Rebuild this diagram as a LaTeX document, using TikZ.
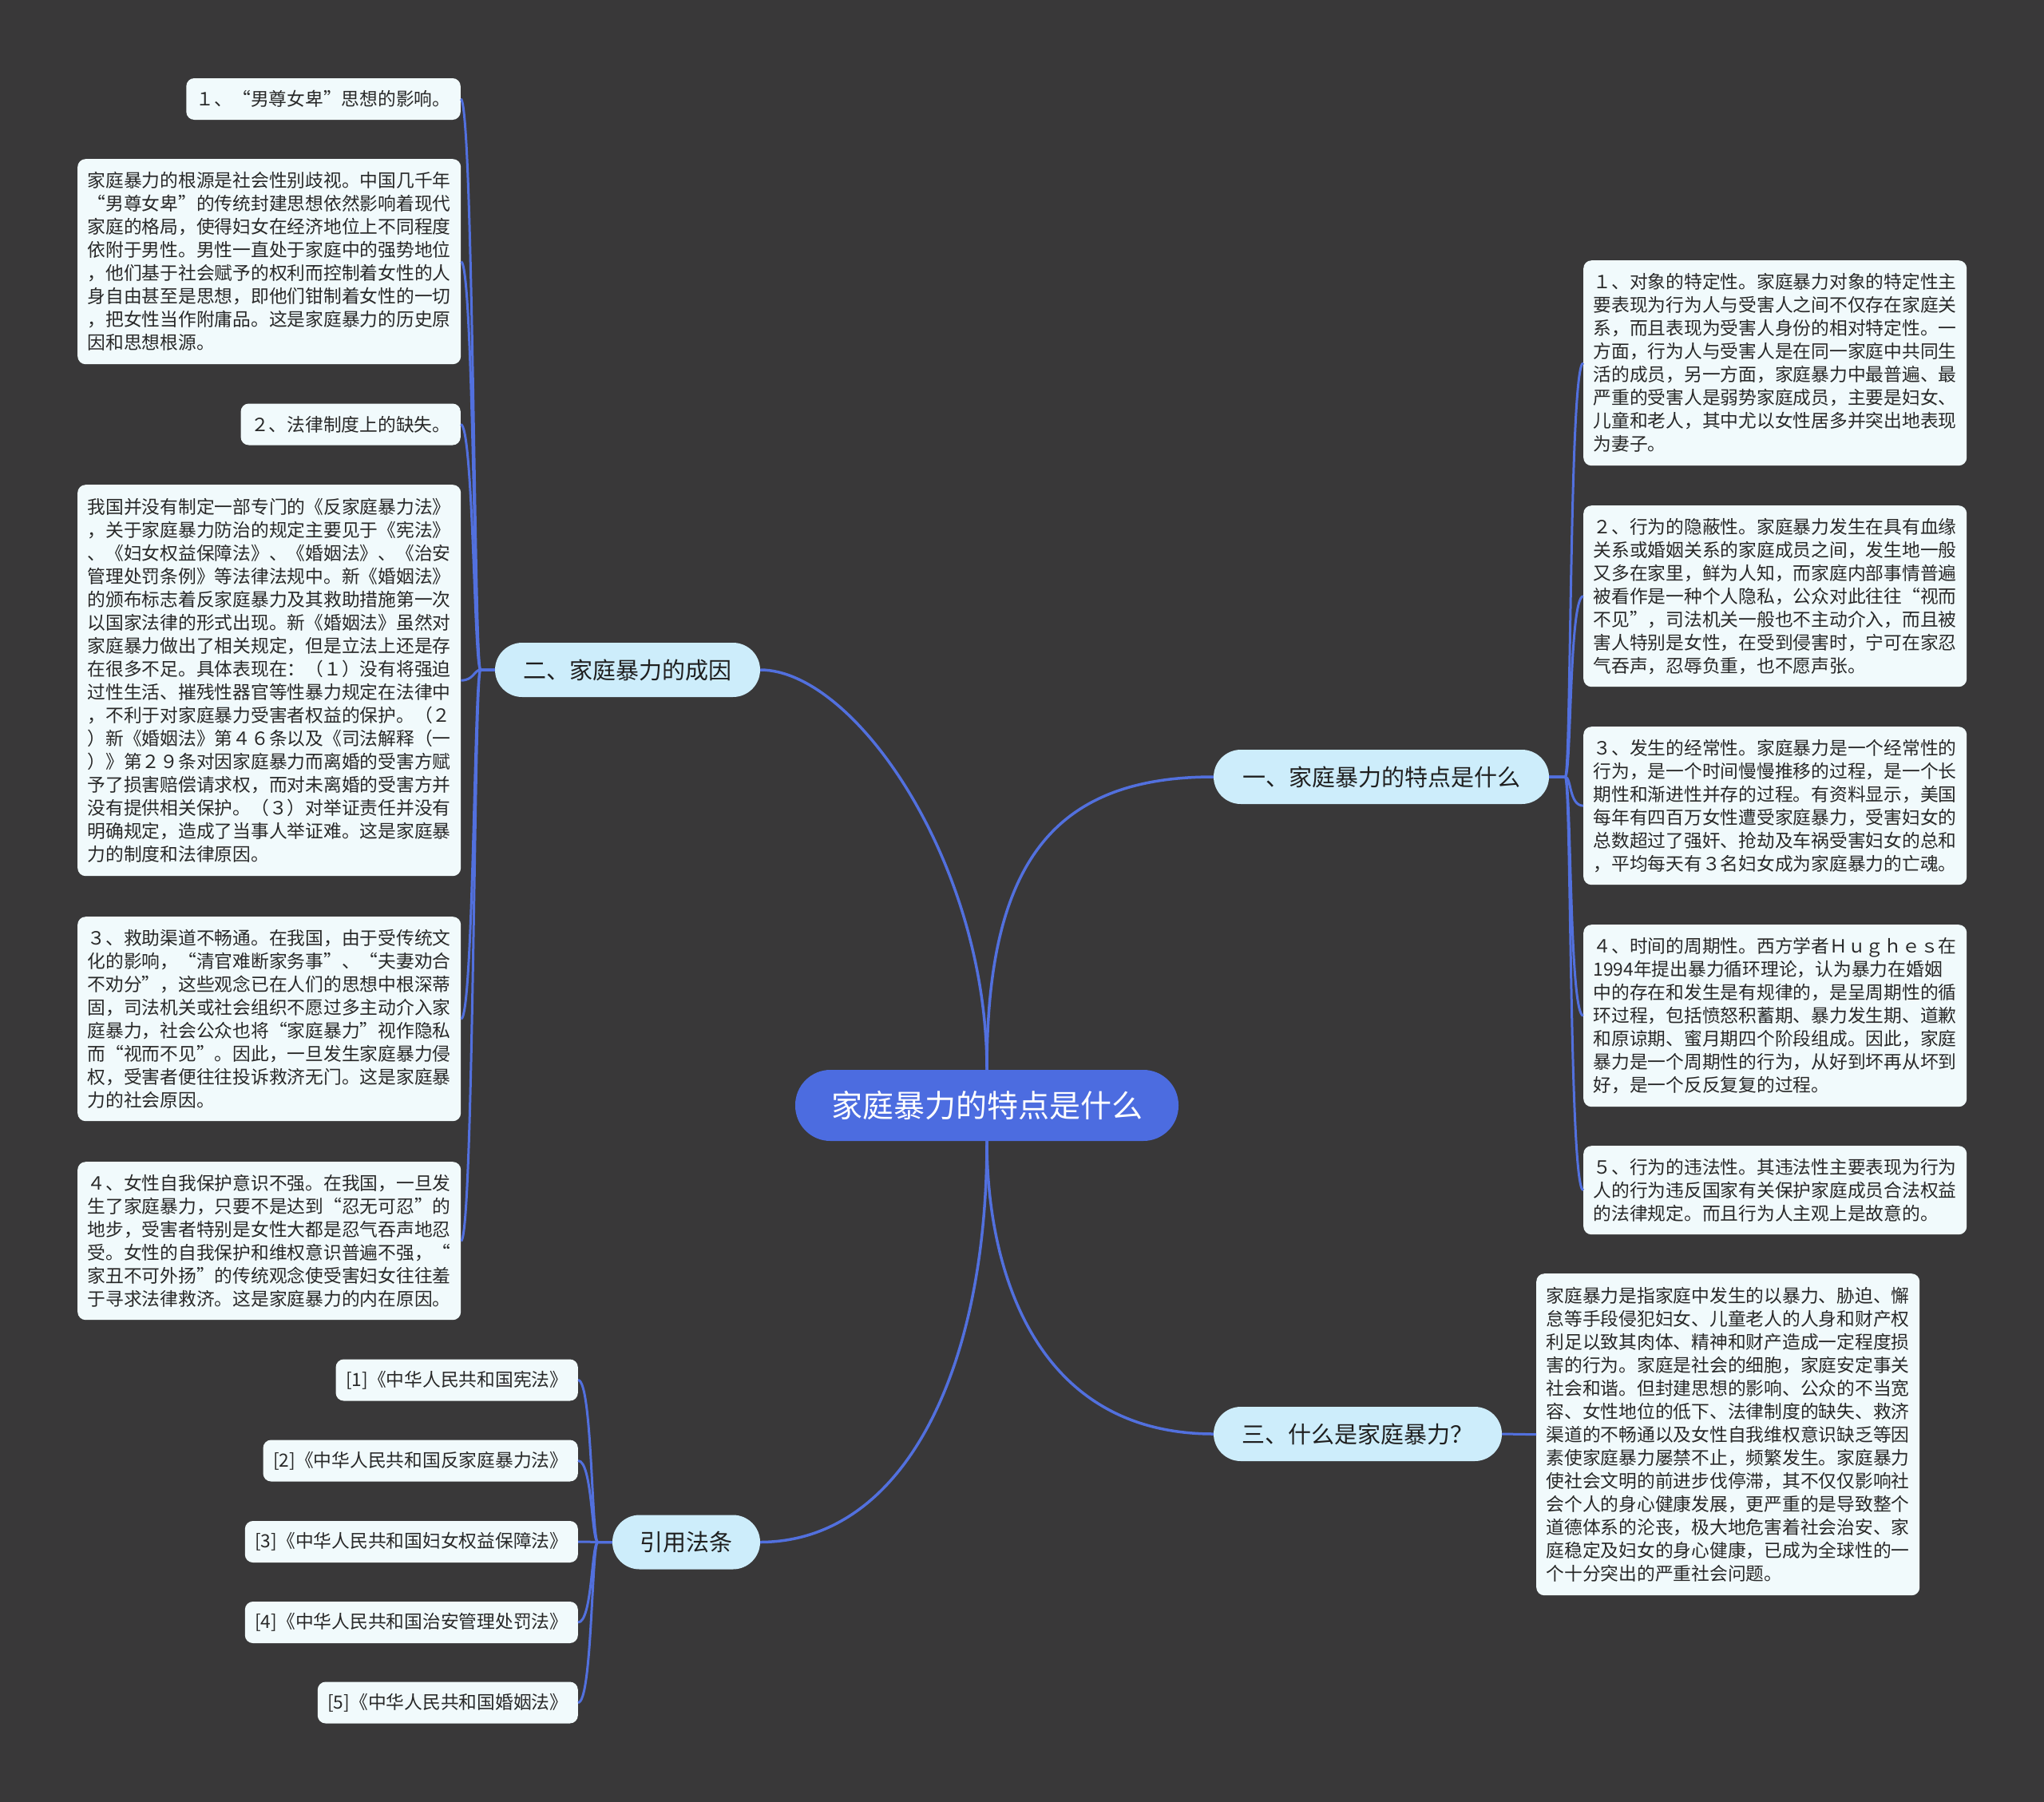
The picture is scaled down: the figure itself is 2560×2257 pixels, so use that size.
\documentclass[tikz,border=0pt]{standalone}
\usepackage{fontspec}
\setmainfont{Noto Sans CJK SC}
\usetikzlibrary{calc}
\definecolor{bgc}{RGB}{57,56,57}
\definecolor{mainblue}{RGB}{76,108,224}
\definecolor{linkblue}{RGB}{82,112,222}
\definecolor{lvlone}{RGB}{205,237,251}
\definecolor{leaffill}{RGB}{241,250,252}
\definecolor{leaftext}{RGB}{40,40,40}
\tikzset{
  central/.style={fill=mainblue, text=white, rounded corners=44pt, minimum width=480pt, minimum height=89pt, inner sep=0pt, font=\fontsize{39pt}{46pt}\selectfont},
  topic/.style={fill=lvlone, text=black!88, rounded corners=34pt, minimum height=68pt, inner sep=0pt, font=\fontsize{29pt}{34pt}\selectfont},
  leaf/.style={fill=leaffill, text=leaftext, rounded corners=10pt, inner xsep=12.5pt, inner ysep=0pt, font=\fontsize{22.75pt}{29pt}\selectfont},
  oneleaf/.style={leaf, anchor=east, minimum height=52pt},
  multileaf/.style={leaf, text width=455pt, align=left, anchor=north west},
  branch/.style={draw=linkblue, line width=3.5pt},
  twig/.style={draw=linkblue, line width=3pt},
}
\begin{document}
\begin{tikzpicture}[x=1pt,y=-1pt]
\fill[bgc] (0,0) rectangle (2560,2257);
\useasboundingbox (0,0) rectangle (2560,2257);

% central and topics
\node[central] (C) at (1236,1384.5) {家庭暴力的特点是什么};
\node[topic, minimum width=420pt] (n1) at (1730,973) {一、家庭暴力的特点是什么};
\node[topic, minimum width=332pt] (n2) at (786,839) {二、家庭暴力的成因};
\node[topic, minimum width=361pt] (n3) at (1700.5,1796) {三、什么是家庭暴力？};
\node[topic, minimum width=185pt] (n4) at (859.5,1931.5) {引用法条};

% left leaves (二)
\node[oneleaf] (L1) at (577,124) {１、“男尊女卑”思想的影响。};
\node[multileaf, minimum height=257pt] (L2) at (97,199) {家庭暴力的根源是社会性别歧视。中国几千年\\“男尊女卑”的传统封建思想依然影响着现代\\家庭的格局，使得妇女在经济地位上不同程度\\依附于男性。男性一直处于家庭中的强势地位\\，他们基于社会赋予的权利而控制着女性的人\\身自由甚至是思想，即他们钳制着女性的一切\\，把女性当作附庸品。这是家庭暴力的历史原\\因和思想根源。};
\node[oneleaf] (L3) at (577,531.5) {２、法律制度上的缺失。};
\node[multileaf, minimum height=490pt] (L4) at (97,607) {我国并没有制定一部专门的《反家庭暴力法》\\，关于家庭暴力防治的规定主要见于《宪法》\\、《妇女权益保障法》、《婚姻法》、《治安\\管理处罚条例》等法律法规中。新《婚姻法》\\的颁布标志着反家庭暴力及其救助措施第一次\\以国家法律的形式出现。新《婚姻法》虽然对\\家庭暴力做出了相关规定，但是立法上还是存\\在很多不足。具体表现在：（１）没有将强迫\\过性生活、摧残性器官等性暴力规定在法律中\\，不利于对家庭暴力受害者权益的保护。（２\\）新《婚姻法》第４６条以及《司法解释（一\\）》第２９条对因家庭暴力而离婚的受害方赋\\予了损害赔偿请求权，而对未离婚的受害方并\\没有提供相关保护。（３）对举证责任并没有\\明确规定，造成了当事人举证难。这是家庭暴\\力的制度和法律原因。};
\node[multileaf, minimum height=256pt] (L5) at (97,1148) {３、救助渠道不畅通。在我国，由于受传统文\\化的影响，“清官难断家务事”、“夫妻劝合\\不劝分”，这些观念已在人们的思想中根深蒂\\固，司法机关或社会组织不愿过多主动介入家\\庭暴力，社会公众也将“家庭暴力”视作隐私\\而“视而不见”。因此，一旦发生家庭暴力侵\\权，受害者便往往投诉救济无门。这是家庭暴\\力的社会原因。};
\node[multileaf, minimum height=198pt] (L6) at (97,1455) {４、女性自我保护意识不强。在我国，一旦发\\生了家庭暴力，只要不是达到“忍无可忍”的\\地步，受害者特别是女性大都是忍气吞声地忍\\受。女性的自我保护和维权意识普遍不强，“\\家丑不可外扬”的传统观念使受害妇女往往羞\\于寻求法律救济。这是家庭暴力的内在原因。};

% right leaves (一)
\node[multileaf, minimum height=257pt] (R1) at (1983,326) {１、对象的特定性。家庭暴力对象的特定性主\\要表现为行为人与受害人之间不仅存在家庭关\\系，而且表现为受害人身份的相对特定性。一\\方面，行为人与受害人是在同一家庭中共同生\\活的成员，另一方面，家庭暴力中最普遍、最\\严重的受害人是弱势家庭成员，主要是妇女、\\儿童和老人，其中尤以女性居多并突出地表现\\为妻子。};
\node[multileaf, minimum height=227pt] (R2) at (1983,633) {２、行为的隐蔽性。家庭暴力发生在具有血缘\\关系或婚姻关系的家庭成员之间，发生地一般\\又多在家里，鲜为人知，而家庭内部事情普遍\\被看作是一种个人隐私，公众对此往往“视而\\不见”，司法机关一般也不主动介入，而且被\\害人特别是女性，在受到侵害时，宁可在家忍\\气吞声，忍辱负重，也不愿声张。};
\node[multileaf, minimum height=198pt] (R3) at (1983,910) {３、发生的经常性。家庭暴力是一个经常性的\\行为，是一个时间慢慢推移的过程，是一个长\\期性和渐进性并存的过程。有资料显示，美国\\每年有四百万女性遭受家庭暴力，受害妇女的\\总数超过了强奸、抢劫及车祸受害妇女的总和\\，平均每天有３名妇女成为家庭暴力的亡魂。};
\node[multileaf, minimum height=228pt] (R4) at (1983,1158) {４、时间的周期性。西方学者Ｈｕｇｈｅｓ在\\1994年提出暴力循环理论，认为暴力在婚姻\\中的存在和发生是有规律的，是呈周期性的循\\环过程，包括愤怒积蓄期、暴力发生期、道歉\\和原谅期、蜜月期四个阶段组成。因此，家庭\\暴力是一个周期性的行为，从好到坏再从坏到\\好，是一个反反复复的过程。};
\node[multileaf, minimum height=111pt] (R5) at (1983,1435) {５、行为的违法性。其违法性主要表现为行为\\人的行为违反国家有关保护家庭成员合法权益\\的法律规定。而且行为人主观上是故意的。};

% leaf (三)
\node[multileaf, minimum height=403pt] (T1) at (1924,1595) {家庭暴力是指家庭中发生的以暴力、胁迫、懈\\怠等手段侵犯妇女、儿童老人的人身和财产权\\利足以致其肉体、精神和财产造成一定程度损\\害的行为。家庭是社会的细胞，家庭安定事关\\社会和谐。但封建思想的影响、公众的不当宽\\容、女性地位的低下、法律制度的缺失、救济\\渠道的不畅通以及女性自我维权意识缺乏等因\\素使家庭暴力屡禁不止，频繁发生。家庭暴力\\使社会文明的前进步伐停滞，其不仅仅影响社\\会个人的身心健康发展，更严重的是导致整个\\道德体系的沦丧，极大地危害着社会治安、家\\庭稳定及妇女的身心健康，已成为全球性的一\\个十分突出的严重社会问题。};

% references
\node[oneleaf] (F1) at (724,1728.5) {[1]《中华人民共和国宪法》};
\node[oneleaf] (F2) at (724,1829.5) {[2]《中华人民共和国反家庭暴力法》};
\node[oneleaf] (F3) at (724,1931) {[3]《中华人民共和国妇女权益保障法》};
\node[oneleaf] (F4) at (724,2032) {[4]《中华人民共和国治安管理处罚法》};
\node[oneleaf] (F5) at (724,2132.5) {[5]《中华人民共和国婚姻法》};

% main branches
\draw[branch] (C.north) .. controls (1236,1080) and (1320,973) .. (n1.west);
\draw[branch] (C.north) .. controls (1236,1080) and (1070,839) .. (n2.east);
\draw[branch] (C.south) .. controls (1236,1580) and (1290,1796) .. (n3.west);
\draw[branch] (C.south) .. controls (1236,1720) and (1130,1931) .. (n4.east);

% twigs
\foreach \l in {L1,L2,L3,L4,L5,L6}
  \draw[twig] (n2.west) -- ++(-18,0) .. controls +(-8,0) and +(16,0) .. (\l.east);
\foreach \r in {R1,R2,R3,R4,R5}
  \draw[twig] (n1.east) -- ++(20,0) .. controls +(8,0) and +(-18,0) .. (\r.west);
\draw[twig] (n3.east) -- (T1.west);
\foreach \f in {F1,F2,F3,F4,F5}
  \draw[twig] (n4.west) -- ++(-18,0) .. controls +(-8,0) and +(18,0) .. (\f.east);
\end{tikzpicture}
\end{document}
